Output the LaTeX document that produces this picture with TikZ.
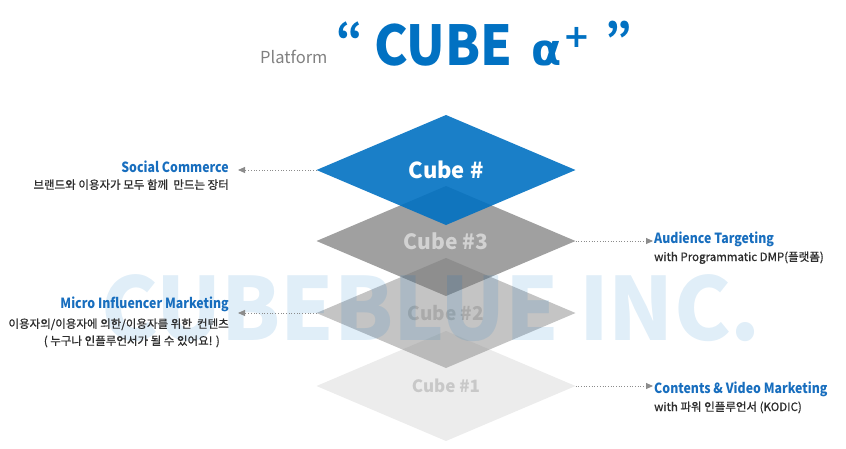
\documentclass[tikz,border=0pt]{standalone}
\usepackage{fontspec}
\setmainfont{Noto Sans CJK KR}
\newfontfamily\lblfont[FakeStretch=0.88]{Noto Sans CJK KR}
\newfontfamily\subfont[FakeBold=0.8]{Noto Sans CJK KR}
\newfontfamily\markfont[FakeStretch=0.98]{Noto Sans CJK KR}
\newfontfamily\brandfont[FakeStretch=0.92]{Noto Sans CJK KR}
\newfontfamily\greekfont{DejaVu Sans}
\usetikzlibrary{shapes.geometric,arrows.meta,positioning}

\definecolor{cubeblue}{RGB}{1,113,194}
\definecolor{lblblue}{RGB}{24,110,190}
\definecolor{subgray}{RGB}{45,45,45}
\definecolor{dotgray}{RGB}{140,140,140}
\definecolor{layerone}{RGB}{236,236,236}
\definecolor{layertwo}{RGB}{137,137,137}
\definecolor{layerthree}{RGB}{119,119,119}

\tikzset{
  layer/.style={diamond, minimum width=259pt, minimum height=110pt, inner sep=0pt, outer sep=0pt, text opacity=1},
  conn/.style={draw=dotgray, line width=0.9pt, dash pattern=on 0.9pt off 1.8pt, -{Triangle[length=7pt,width=6pt]}},
  lbltitle/.style={inner sep=0pt, text height=10pt, text depth=3pt, text=lblblue, font=\lblfont\bfseries\fontsize{14}{16}\selectfont},
  lblsub/.style={inner sep=0pt, text height=9pt, text depth=2.5pt, text=subgray, font=\subfont\fontsize{11.5}{14}\selectfont},
  brandtxt/.style={anchor=base west, inner sep=0pt, text=cubeblue, font=\brandfont\bfseries\fontsize{55}{55}\selectfont},
  quotetxt/.style={anchor=base west, inner sep=0pt, text=cubeblue, font=\bfseries\fontsize{42}{42}\selectfont},
}

\begin{document}
\begin{tikzpicture}[x=1pt,y=-1pt]
\useasboundingbox (0,0) rectangle (846,448);
% layer elements
\pgfmathsetmacro{\xo}{446}
\pgfmathsetmacro{\yo}{170}

  \node[layer, fill=layerone, text={rgb,255:red,200;green,200;blue,200}, font=\bfseries\fontsize{17}{17}\selectfont] (cube1) at (\xo,\yo+216) {Cube \#1};
  \node[layer, fill=layertwo, fill opacity=0.5, text={rgb,255:red,170;green,170;blue,170}, font=\bfseries\fontsize{19}{19}\selectfont] (cube2) at (\xo,\yo+143) {Cube \#2};
  \node[layer, fill=layerthree, fill opacity=0.7, text={rgb,255:red,210;green,210;blue,210}, font=\bfseries\fontsize{21}{21}\selectfont] (cube3) at (\xo,\yo+71) {Cube \#3};
  \node[layer, fill=cubeblue, fill opacity=0.9, text=white, font=\bfseries\fontsize{22}{22}\selectfont] (cube4) at (\xo,\yo) {Cube \#};

% watermark
  \node[anchor=base west, inner sep=0pt, text=cubeblue, text opacity=0.12, font=\markfont\bfseries\fontsize{87}{87}\selectfont] (mark) at (101,340) {CUBEBLUE INC.};

% title
  \node[anchor=base west, inner sep=0pt, text=gray, font=\fontsize{16.5}{16.5}\selectfont] (platform) at (260,63) {Platform};
  \node[quotetxt] (qopen) at (336,54) {“};
  \node[brandtxt] (brand) at (374,65) {CUBE};
  \node[brandtxt, font=\greekfont\bfseries\fontsize{44}{44}\selectfont] (alpha) at (531,65) {α};
  \node[inner sep=0pt, text=cubeblue, font=\greekfont\bfseries\fontsize{32}{32}\selectfont] (plus) at (577,37) {+};
  \node[quotetxt] (qclose) at (605,54) {”};

% labels, left side
  \node[lbltitle, anchor=base east] (social) at (229,172) {Social Commerce};
  \node[lblsub, anchor=base east] (socialsub) at (229,189) {브랜드와 이용자가 모두 함께\ \ 만드는 장터};
  \node[lbltitle, anchor=base east] (micro) at (229,308) {Micro Influencer Marketing};
  \node[lblsub, anchor=base east] (microsub) at (229,328) {이용자의/이용자에 의한/이용자를 위한\ \ 컨텐츠};
  \node[lblsub, anchor=base east] (microsubb) at (220,345) {( 누구나 인플루언서가 될 수 있어요! )};

% labels, right side
  \node[lbltitle, anchor=base west] (audience) at (654,243) {Audience Targeting};
  \node[lblsub, anchor=base west] (audsub) at (654,261) {with Programmatic DMP(플랫폼)};
  \node[lbltitle, anchor=base west] (contents) at (654,393) {Contents \& Video Marketing};
  \node[lblsub, anchor=base west] (contsub) at (654,411) {with 파워 인플루언서 (KODIC)};

% connectors
  \draw[conn, shorten >=9pt] (cube4.west) -- (cube4.west -| social.east);
  \draw[conn, shorten >=9pt] (cube2.west) -- (cube2.west -| micro.east);
  \draw[conn, shorten >=1pt] (cube3.east) -- (cube3.east -| audience.west);
  \draw[conn, shorten >=1pt] (cube1.east) -- (cube1.east -| contents.west);

\end{tikzpicture}
\end{document}
